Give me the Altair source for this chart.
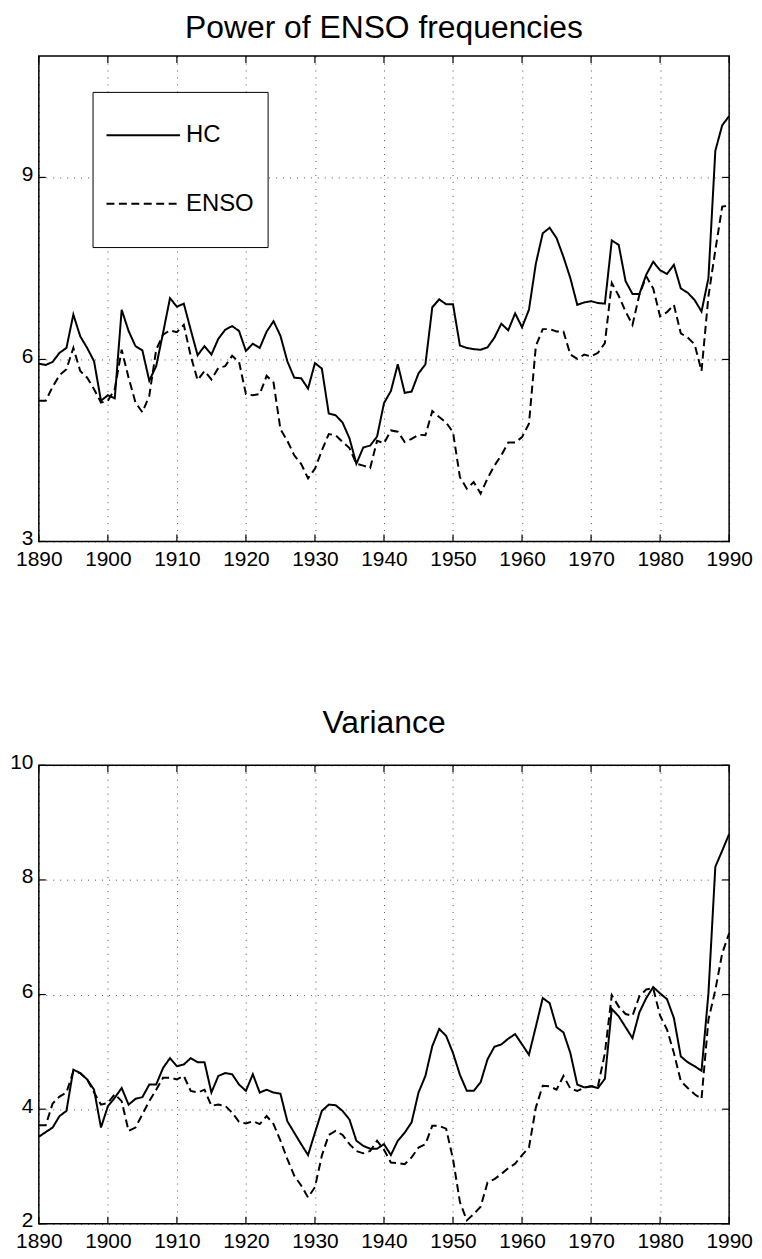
import altair as alt
import pandas as pd

FONT = "Liberation Sans"

years = list(range(1890, 1991))
series_names = ["HC", "ENSO"]

power_hc = [
    5.93, 5.91, 5.96, 6.11, 6.19, 6.74, 6.38, 6.19, 5.97, 5.32,
    5.41, 5.36, 6.82, 6.47, 6.22, 6.15, 5.65, 5.89, 6.44, 7.01,
    6.87, 6.92, 6.49, 6.07, 6.22, 6.08, 6.34, 6.49, 6.55, 6.47,
    6.14, 6.26, 6.19, 6.46, 6.63, 6.39, 5.97, 5.70, 5.69, 5.52,
    5.94, 5.85, 5.11, 5.08, 4.96, 4.70, 4.28, 4.55, 4.58, 4.73,
    5.28, 5.48, 5.92, 5.45, 5.47, 5.77, 5.92, 6.86, 6.99, 6.91,
    6.91, 6.23, 6.19, 6.17, 6.16, 6.20, 6.36, 6.59, 6.48, 6.76,
    6.53, 6.82, 7.58, 8.08, 8.17, 8.00, 7.69, 7.34, 6.90, 6.94,
    6.96, 6.93, 6.92, 7.96, 7.89, 7.29, 7.08, 7.08, 7.40, 7.61,
    7.47, 7.41, 7.56, 7.17, 7.10, 6.98, 6.79, 7.34, 9.44, 9.86,
    10.01,
]
power_enso = [
    5.32, 5.32, 5.55, 5.74, 5.84, 6.19, 5.81, 5.70, 5.51, 5.29,
    5.32, 5.51, 6.16, 5.70, 5.29, 5.13, 5.40, 6.16, 6.41, 6.48,
    6.45, 6.57, 6.06, 5.66, 5.81, 5.67, 5.86, 5.89, 6.06, 5.96,
    5.43, 5.41, 5.43, 5.73, 5.62, 4.85, 4.66, 4.42, 4.28, 4.04,
    4.20, 4.50, 4.77, 4.75, 4.64, 4.54, 4.28, 4.25, 4.21, 4.66,
    4.62, 4.83, 4.81, 4.64, 4.69, 4.76, 4.75, 5.15, 5.05, 4.96,
    4.80, 4.06, 3.87, 3.98, 3.79, 4.04, 4.25, 4.42, 4.63, 4.63,
    4.72, 4.94, 6.22, 6.50, 6.50, 6.46, 6.46, 6.08, 6.01, 6.08,
    6.05, 6.11, 6.27, 7.26, 7.05, 6.79, 6.57, 7.07, 7.37, 7.17,
    6.71, 6.78, 6.90, 6.43, 6.36, 6.25, 5.81, 7.04, 7.80, 8.52,
    8.54,
]
var_hc = [
    3.52, 3.60, 3.68, 3.88, 3.97, 4.69, 4.63, 4.52, 4.34, 3.68,
    4.05, 4.20, 4.37, 4.08, 4.18, 4.21, 4.43, 4.43, 4.72, 4.89,
    4.75, 4.78, 4.89, 4.82, 4.82, 4.29, 4.58, 4.63, 4.61, 4.43,
    4.32, 4.61, 4.29, 4.34, 4.29, 4.27, 3.79, 3.59, 3.39, 3.20,
    3.59, 3.97, 4.08, 4.07, 3.97, 3.82, 3.45, 3.36, 3.31, 3.31,
    3.39, 3.20, 3.45, 3.59, 3.77, 4.29, 4.58, 5.10, 5.40, 5.28,
    4.98, 4.60, 4.32, 4.32, 4.47, 4.87, 5.09, 5.13, 5.23, 5.31,
    5.13, 4.95, 5.44, 5.94, 5.85, 5.43, 5.34, 4.98, 4.43, 4.38,
    4.40, 4.37, 4.53, 5.75, 5.62, 5.43, 5.24, 5.69, 5.94, 6.13,
    6.02, 5.92, 5.59, 4.92, 4.82, 4.75, 4.67, 6.02, 8.23, 8.51,
    8.80,
]
var_enso = [
    3.72, 3.72, 4.10, 4.22, 4.29, 4.66, 4.63, 4.52, 4.29, 4.08,
    4.11, 4.26, 4.14, 3.62, 3.68, 3.91, 4.14, 4.34, 4.55, 4.55,
    4.52, 4.58, 4.32, 4.29, 4.34, 4.06, 4.08, 4.06, 3.94, 3.78,
    3.75, 3.79, 3.74, 3.88, 3.74, 3.45, 3.13, 2.84, 2.67, 2.46,
    2.64, 3.19, 3.55, 3.62, 3.55, 3.39, 3.27, 3.23, 3.27, 3.45,
    3.29, 3.07, 3.06, 3.04, 3.16, 3.33, 3.39, 3.71, 3.71, 3.66,
    3.13, 2.38, 2.06, 2.17, 2.30, 2.72, 2.78, 2.87, 2.97, 3.05,
    3.20, 3.33, 4.03, 4.41, 4.40, 4.34, 4.58, 4.36, 4.32, 4.37,
    4.40, 4.40, 4.98, 5.99, 5.79, 5.66, 5.63, 5.97, 6.09, 6.11,
    5.63, 5.39, 4.98, 4.49, 4.37, 4.26, 4.18, 5.56, 6.08, 6.72,
    7.07,
]

x_ticks = [1890, 1900, 1910, 1920, 1930, 1940, 1950, 1960, 1970, 1980, 1990]
power_ticks = [3, 6, 9]
var_ticks = [2, 4, 6, 8, 10]

W = 694
H_TOP = 488
H_BOT = 461


def make_df(hc, enso):
    return pd.DataFrame({
        "year": years + years,
        "value": hc + enso,
        "series": ["HC"] * len(years) + ["ENSO"] * len(years),
    })


def panel(df, title, ydom, yticks, h, legend):
    x_enc = alt.X("year:Q",
                  scale=alt.Scale(domain=[1890, 1990], nice=False, zero=False),
                  axis=alt.Axis(values=x_ticks, format="d", title=None,
                                labelOverlap=False, labelFlush=False,
                                labelPadding=7))
    y_enc = alt.Y("value:Q",
                  scale=alt.Scale(domain=ydom, nice=False, zero=False),
                  axis=alt.Axis(values=yticks, title=None, labelOverlap=False,
                                labelFlush=False, labelOffset=-3))
    lines = alt.Chart(df).mark_line(color="black", strokeWidth=2, clip=True).encode(
        x=x_enc, y=y_enc,
        strokeDash=alt.StrokeDash(
            "series:N",
            scale=alt.Scale(domain=series_names, range=[[1, 0], [8, 4.5]]),
            sort=series_names,
            legend=legend,
        ),
    )
    xt = pd.DataFrame({"year": x_ticks})
    yt = pd.DataFrame({"value": yticks})
    tick_top = alt.Chart(xt).mark_rule(color="black", strokeWidth=1.2).encode(
        x=x_enc, y=alt.value(0), y2=alt.value(7))
    tick_bot = alt.Chart(xt).mark_rule(color="black", strokeWidth=1.2).encode(
        x=x_enc, y=alt.value(h - 7), y2=alt.value(h))
    tick_left = alt.Chart(yt).mark_rule(color="black", strokeWidth=1.2).encode(
        y=y_enc, x=alt.value(0), x2=alt.value(7))
    tick_right = alt.Chart(yt).mark_rule(color="black", strokeWidth=1.2).encode(
        y=y_enc, x=alt.value(W - 7), x2=alt.value(W))
    return alt.layer(lines, tick_top, tick_bot, tick_left, tick_right).properties(
        width=W, height=h,
        title=alt.TitleParams(title, fontSize=32, font=FONT, fontWeight="normal",
                              color="black", offset=11, anchor="middle"),
    )


top_legend = alt.Legend(
    title=None, orient="none", legendX=54, legendY=36, direction="vertical",
    symbolType="stroke", symbolSize=5476, symbolStrokeWidth=2,
    symbolStrokeColor="black", symbolFillColor="transparent",
    labelFontSize=24, labelFont=FONT, labelColor="black", labelOffset=5,
    padding=13, clipHeight=61, rowPadding=8, labelLimit=0,
    strokeColor="black", fillColor="white",
)

top = panel(make_df(power_hc, power_enso), "Power of ENSO frequencies",
            [3, 11], power_ticks, H_TOP, top_legend)
bottom = panel(make_df(var_hc, var_enso), "Variance",
               [2, 10], var_ticks, H_BOT, None)

chart = alt.vconcat(top, bottom, spacing=137).resolve_scale(
    strokeDash="independent").resolve_legend(strokeDash="independent").properties(
    padding={"left": 0, "top": -1, "right": 0, "bottom": 0}
).configure_view(
    stroke="black", strokeWidth=1.5
).configure_axis(
    grid=True, gridColor="black", gridDash=[1, 6], gridWidth=1, gridOpacity=0.7,
    domain=False, ticks=False,
    labelFont=FONT, labelFontSize=21, labelColor="black", labelPadding=6,
)

chart.save("out.html", embed_options={"renderer": "svg", "actions": False})
